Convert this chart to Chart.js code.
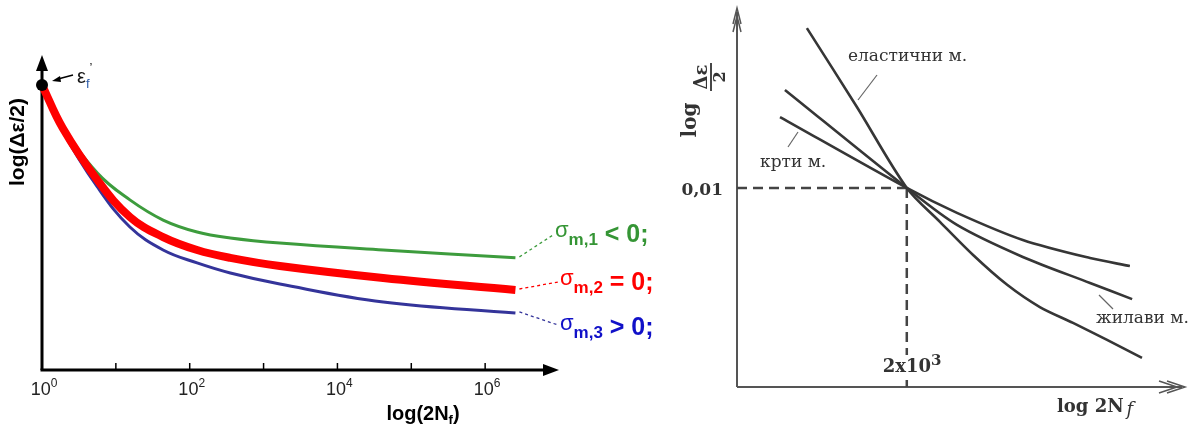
<!DOCTYPE html>
<html>
<head>
<meta charset="utf-8">
<script src="https://cdn.jsdelivr.net/npm/chart.js@4.4.1/dist/chart.umd.min.js"></script>
<style>
  html, body { margin: 0; padding: 0; background: #fff; }
  #wrap { position: relative; width: 1202px; height: 429px; overflow: hidden; }
  #leftChart { position: absolute; left: 0; top: 0; }
  #rightChart { position: absolute; left: 600px; top: 0; }
</style>
</head>
<body>
<div id="wrap">
  <canvas id="leftChart" width="680" height="429" style="width:680px;height:429px"></canvas>
  <canvas id="rightChart" width="602" height="429" style="width:602px;height:429px"></canvas>
</div>
<script>
// ---- left panel: log(2Nf) in decades vs log(Δε/2), arbitrary units ----
const cycleLog = [0, 0.28, 0.75, 1.19, 1.64, 2.10, 2.55, 3.22, 4.62, 6.41];
const strainCompressive = [9.05, 7.75, 6.25, 5.40, 4.76, 4.38, 4.19, 4.03, 3.81, 3.56];
const strainZeroMean = [9.05, 7.68, 6.03, 4.86, 4.22, 3.81, 3.56, 3.30, 2.92, 2.54];
const strainTensile = [9.05, 7.59, 5.81, 4.54, 3.81, 3.40, 3.08, 2.73, 2.16, 1.81];
const decadeTicks = [0, 1, 2, 3, 4, 5, 6];
const decadeLabels = ['0', '', '2', '', '4', '', '6'];

// ---- right panel: Coffin-Manson sketch, arbitrary units ----
const elasticX = [1.56, 2.68, 3.79, 4.53, 5.27, 6.03, 6.76, 7.50, 8.26, 9.04];
const elasticY = [9.52, 7.42, 5.28, 4.38, 3.50, 2.71, 2.12, 1.70, 1.25, 0.77];
const ductileX = [1.07, 3.79, 4.91, 6.38, 7.88, 8.82];
const ductileY = [7.88, 5.28, 4.30, 3.45, 2.76, 2.33];
const brittleX = [0.96, 3.79, 4.91, 6.38, 7.88, 8.77];
const brittleY = [7.16, 5.28, 4.62, 3.90, 3.42, 3.21];
const refX = [3.79];   // 2x10^3
const refY = [5.28];   // 0,01

const SANS = '"Liberation Sans", Arial, sans-serif';
const SERIF = '"DejaVu Serif", serif';

function toPoints(xs, ys) {
  return xs.map((v, i) => ({ x: v, y: ys[i] }));
}

function runsWidth(ctx, runs) {
  let w = 0;
  runs.forEach(r => { ctx.font = r.font; w += ctx.measureText(r.text).width + (r.dx || 0); });
  return w;
}

function drawRuns(ctx, runs, x, baseline) {
  runs.forEach(r => {
    ctx.font = r.font;
    ctx.fillStyle = r.color || '#000';
    x += (r.dx || 0);
    ctx.fillText(r.text, x, baseline + (r.dy || 0));
    x += ctx.measureText(r.text).width;
  });
  return x;
}

function line(ctx, x1, y1, x2, y2) {
  ctx.beginPath(); ctx.moveTo(x1, y1); ctx.lineTo(x2, y2); ctx.stroke();
}

// colours
const greenLine = '#3d9c3d', greenText = '#359535';
const redLine = '#ff0000', redText = '#ff0000';
const blueLine = '#34349a', blueText = '#1010c8';

const leftDecor = {
  id: 'leftDecor',
  beforeDatasetsDraw(chart) {
    const { ctx, scales: { x, y } } = chart;
    const x0 = x.getPixelForValue(0), y0 = y.getPixelForValue(0);
    const xEnd = x.getPixelForValue(x.max), yTop = y.getPixelForValue(y.max);
    ctx.save();
    ctx.strokeStyle = '#000'; ctx.fillStyle = '#000';
    ctx.lineWidth = 3;
    line(ctx, x0 - 1.5, y0, xEnd - 12, y0);
    line(ctx, x0, y0, x0, yTop + 12);
    ctx.beginPath(); ctx.moveTo(xEnd, y0); ctx.lineTo(xEnd - 16, y0 - 6); ctx.lineTo(xEnd - 16, y0 + 6); ctx.closePath(); ctx.fill();
    ctx.beginPath(); ctx.moveTo(x0, yTop); ctx.lineTo(x0 - 6, yTop + 16); ctx.lineTo(x0 + 6, yTop + 16); ctx.closePath(); ctx.fill();

    // decade ticks and labels
    ctx.lineWidth = 1.5;
    ctx.textAlign = 'left'; ctx.textBaseline = 'alphabetic';
    decadeTicks.forEach((d, i) => {
      const px = x.getPixelForValue(d);
      if (d > 0) line(ctx, px, y0, px, y0 - 7);
      if (decadeLabels[i] !== '') {
        const runs = [
          { text: '10', font: '18px ' + SANS, color: '#222' },
          { text: decadeLabels[i], font: '12px ' + SANS, dy: -8, color: '#222' }
        ];
        drawRuns(ctx, runs, px - runsWidth(ctx, runs) / 2 + 2, y0 + 25);
      }
    });

    // axis titles
    const xt = [
      { text: 'log(2N', font: 'bold 20px ' + SANS },
      { text: 'f', font: 'bold 13px ' + SANS, dy: 4 },
      { text: ')', font: 'bold 20px ' + SANS }
    ];
    drawRuns(ctx, xt, 423 - runsWidth(ctx, xt) / 2, 420);

    ctx.save();
    ctx.translate(18, 142);
    ctx.rotate(-Math.PI / 2);
    ctx.font = 'bold 21px ' + SANS;
    ctx.textAlign = 'center'; ctx.textBaseline = 'middle';
    ctx.fillText('log(\u0394\u03b5/2)', 0, 0);
    ctx.restore();

    // ε_f' pointer
    const dx = x0, dy = y.getPixelForValue(strainZeroMean[0]);
    ctx.lineWidth = 1.5;
    line(ctx, dx + 31, dy - 10, dx + 16, dy - 6);
    ctx.beginPath(); ctx.moveTo(dx + 10, dy - 4); ctx.lineTo(dx + 18, dy - 9); ctx.lineTo(dx + 19, dy - 3); ctx.closePath(); ctx.fill();
    drawRuns(ctx, [
      { text: '\u03b5', font: '20px ' + SANS, color: '#111' },
      { text: 'f', font: '13px ' + SANS, dy: 5, color: '#2a5aa8' },
      { text: '\u2019', font: '13px ' + SANS, dy: -11, dx: 0, color: '#111' }
    ], dx + 35, dy - 2);

    // connectors + mean-stress labels
    const last = cycleLog.length - 1;
    const ex = x.getPixelForValue(cycleLog[last]);
    const rows = [
      { sy: y.getPixelForValue(strainCompressive[last]), lx: 555, base: 242, sub: 'm,1', rel: '< 0;', lc: greenLine, tc: greenText, ty: -7 },
      { sy: y.getPixelForValue(strainZeroMean[last]), lx: 560, base: 290, sub: 'm,2', rel: '= 0;', lc: redLine, tc: redText, ty: -8 },
      { sy: y.getPixelForValue(strainTensile[last]), lx: 560, base: 335, sub: 'm,3', rel: '> 0;', lc: blueLine, tc: blueText, ty: -10 }
    ];
    rows.forEach(r => {
      ctx.strokeStyle = r.lc; ctx.lineWidth = 1.3;
      ctx.setLineDash([3, 3]);
      line(ctx, ex + 4, r.sy - 1, r.lx - 2, r.base + r.ty);
      ctx.setLineDash([]);
      drawRuns(ctx, [
        { text: '\u03c3', font: '22px ' + SANS, dy: -5, color: r.tc },
        { text: r.sub, font: 'bold 17px ' + SANS, dy: 3, color: r.tc },
        { text: ' ' + r.rel, font: 'bold 25px ' + SANS, color: r.tc }
      ], r.lx, r.base);
    });
    ctx.restore();
  }
};

new Chart(document.getElementById('leftChart'), {
  type: 'scatter',
  data: {
    datasets: [
      { data: [{ x: cycleLog[0], y: strainZeroMean[0] }], pointRadius: 6, pointBackgroundColor: '#000', pointBorderWidth: 0, showLine: false, clip: false, order: 0 },
      { data: toPoints(cycleLog, strainZeroMean), borderColor: redLine, borderWidth: 8, showLine: true, pointRadius: 0, tension: 0.4, clip: false, order: 1 },
      { data: toPoints(cycleLog, strainTensile), borderColor: blueLine, borderWidth: 3, showLine: true, pointRadius: 0, tension: 0.4, clip: false, order: 2 },
      { data: toPoints(cycleLog, strainCompressive), borderColor: greenLine, borderWidth: 3, showLine: true, pointRadius: 0, tension: 0.4, clip: false, order: 3 }
    ]
  },
  options: {
    responsive: false,
    animation: false,
    layout: { padding: { left: 42, right: 121, top: 55, bottom: 59 } },
    plugins: { legend: { display: false }, tooltip: { enabled: false } },
    scales: {
      x: { type: 'linear', display: false, min: 0, max: 7 },
      y: { type: 'linear', display: false, min: 0, max: 10 }
    }
  },
  plugins: [leftDecor]
});

// ---- right panel ----
const ink = '#333';

const rightDecor = {
  id: 'rightDecor',
  beforeDatasetsDraw(chart) {
    const { ctx, scales: { x, y } } = chart;
    const x0 = x.getPixelForValue(0), y0 = y.getPixelForValue(0);
    const xEnd = x.getPixelForValue(x.max), yTop = y.getPixelForValue(y.max);
    const rx = x.getPixelForValue(refX[0]), ry = y.getPixelForValue(refY[0]);
    ctx.save();
    ctx.strokeStyle = '#555'; ctx.lineWidth = 2;
    line(ctx, x0, y0, xEnd - 3, y0);
    line(ctx, x0, y0, x0, yTop + 2);
    // open double arrowheads
    ctx.lineWidth = 1.5;
    [0, 8].forEach(o => {
      ctx.beginPath(); ctx.moveTo(xEnd - 18 - o, y0 - 6); ctx.lineTo(xEnd - o, y0); ctx.lineTo(xEnd - 18 - o, y0 + 6); ctx.stroke();
      ctx.beginPath(); ctx.moveTo(x0 - 4, yTop + 14 + o); ctx.lineTo(x0, yTop - 2 + o); ctx.lineTo(x0 + 4, yTop + 14 + o); ctx.stroke();
    });

    // reference dashed lines
    ctx.strokeStyle = '#444'; ctx.lineWidth = 2.5;
    ctx.setLineDash([10, 6]);
    line(ctx, x0, ry, rx, ry);
    line(ctx, rx, ry, rx, y0);
    ctx.setLineDash([]);

    ctx.textBaseline = 'alphabetic'; ctx.textAlign = 'left';
    // tick values
    ctx.font = 'bold 17px ' + SERIF; ctx.fillStyle = ink;
    ctx.textAlign = 'right';
    ctx.fillText('0,01', x0 - 14, ry + 7);
    ctx.textAlign = 'left';
    const cyc = [
      { text: '2x10', font: 'bold 18px ' + SERIF, color: ink },
      { text: '3', font: 'bold 15px ' + SERIF, dy: -7, color: ink }
    ];
    ctx.fillStyle = '#fff';
    ctx.fillRect(rx - 25, y0 - 32, runsWidth(ctx, cyc) + 2, 22);
    drawRuns(ctx, cyc, rx - 24, y0 - 15);

    // axis title
    drawRuns(ctx, [
      { text: 'log 2N', font: 'bold 18px ' + SERIF, color: ink },
      { text: ' f', font: 'italic 18px ' + SERIF, dy: 3, dx: -3, color: ink }
    ], 457, 412);

    ctx.save();
    ctx.translate(96, 143);
    ctx.rotate(-Math.PI / 2);
    ctx.fillStyle = ink;
    ctx.textAlign = 'center';
    ctx.font = 'bold 20px ' + SERIF;
    ctx.fillText('log', 23, 0);
    ctx.font = 'bold 18px ' + SERIF;
    ctx.fillText('\u0394\u03b5', 66, 11);
    ctx.font = 'bold 16px ' + SERIF;
    ctx.fillText('2', 66, 29);
    ctx.strokeStyle = ink; ctx.lineWidth = 1.8;
    line(ctx, 52, 15, 80, 15);
    ctx.restore();

    // curve labels with pointers
    ctx.font = '17px ' + SERIF; ctx.fillStyle = ink;
    ctx.fillText('\u0435\u043b\u0430\u0441\u0442\u0438\u0447\u043d\u0438 \u043c.', 248, 61);
    ctx.fillText('\u043a\u0440\u0442\u0438 \u043c.', 160, 167);
    ctx.fillText('\u0436\u0438\u043b\u0430\u0432\u0438 \u043c.', 496, 323);
    ctx.strokeStyle = '#666'; ctx.lineWidth = 1.2;
    line(ctx, 277, 75, 258, 100);
    line(ctx, 188, 147, 198, 132);
    line(ctx, 513, 309, 499, 295);
    ctx.restore();
  }
};

const curveStyle = { borderColor: '#363636', borderWidth: 2.6, showLine: true, pointRadius: 0, tension: 0.3, clip: false };

new Chart(document.getElementById('rightChart'), {
  type: 'scatter',
  data: {
    datasets: [
      Object.assign({ data: toPoints(elasticX, elasticY) }, curveStyle),
      Object.assign({ data: toPoints(ductileX, ductileY) }, curveStyle),
      Object.assign({ data: toPoints(brittleX, brittleY) }, curveStyle)
    ]
  },
  options: {
    responsive: false,
    animation: false,
    layout: { padding: { left: 137, right: 17, top: 10, bottom: 42 } },
    plugins: { legend: { display: false }, tooltip: { enabled: false } },
    scales: {
      x: { type: 'linear', display: false, min: 0, max: 10 },
      y: { type: 'linear', display: false, min: 0, max: 10 }
    }
  },
  plugins: [rightDecor]
});
</script>
</body>
</html>
